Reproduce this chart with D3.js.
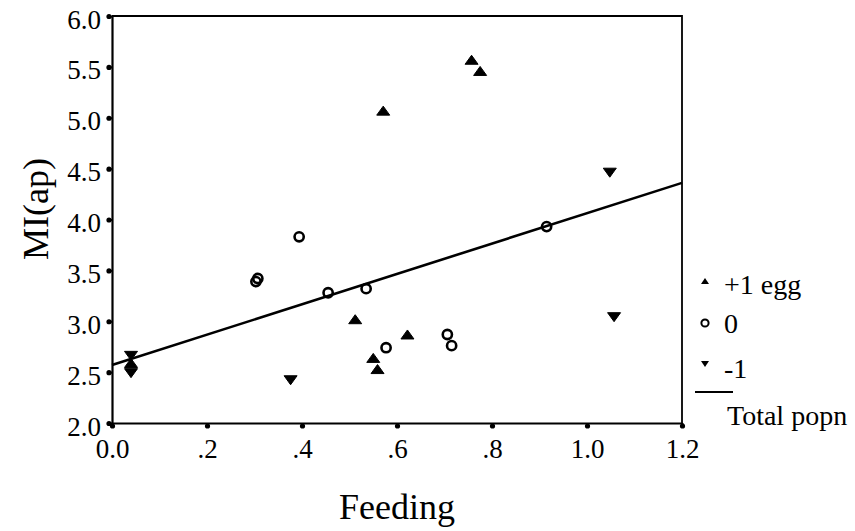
<!DOCTYPE html>
<html><head><meta charset="utf-8">
<script src="https://cdn.jsdelivr.net/npm/d3@7/dist/d3.min.js"></script>
<style>body{margin:0;background:#fff}svg{display:block}text{font-family:"Liberation Serif","Times New Roman",serif;fill:#000}</style>
</head><body><svg id="c" width="855" height="531"></svg>
<script>
// Data
const upX = [0.04, 0.757, 0.775, 0.571, 0.512, 0.622, 0.550, 0.559];
const upY = [2.59, 5.57, 5.46, 5.07, 3.02, 2.87, 2.64, 2.53];
const zeroX = [0.307, 0.303, 0.394, 0.455, 0.535, 0.577, 0.706, 0.715, 0.915];
const zeroY = [3.42, 3.39, 3.83, 3.28, 3.32, 2.74, 2.87, 2.76, 3.93];
const downX = [0.04, 0.04, 0.376, 1.048, 1.057];
const downY = [2.66, 2.49, 2.42, 4.46, 3.04];
const fitX = [0, 1.2];
const fitY = [2.57, 4.36];
const xTicks = [0, 0.2, 0.4, 0.6, 0.8, 1.0, 1.2];
const xTickLabels = ["0.0", ".2", ".4", ".6", ".8", "1.0", "1.2"];
const yTicks = [2.0, 2.5, 3.0, 3.5, 4.0, 4.5, 5.0, 5.5, 6.0];
const yTickLabels = ["2.0", "2.5", "3.0", "3.5", "4.0", "4.5", "5.0", "5.5", "6.0"];
const legendLabels = ["+1 egg", "0", "-1", "Total popn"];

const FONT = '"Liberation Serif", "Times New Roman", serif';
const svg = d3.select("#c");
const L = 112, R = 682, T = 16, B = 423;
const x = d3.scaleLinear().domain([0, 1.2]).range([L, R]);
const y = d3.scaleLinear().domain([2, 6]).range([B, T]);

// frame (top & right)
svg.append("path").attr("d", `M${L},${T}H${R}V${B}`).attr("fill","none").attr("stroke","#000").attr("stroke-width",1.8);

// axes
const xAxis = d3.axisBottom(x).tickValues(xTicks).tickFormat((d,i)=>xTickLabels[i]).tickSize(3).tickSizeOuter(0);
const gx = svg.append("g").attr("transform",`translate(0,${B})`).call(xAxis)
  .attr("font-family", null).attr("font-size", null);
gx.select(".domain").attr("stroke-width",2.2);
gx.selectAll(".tick line").attr("stroke-width",2);
gx.selectAll(".tick").append("circle").attr("cy",3).attr("r",2.6).attr("fill","#000");
gx.selectAll(".tick text").attr("y",35).attr("dy",null).attr("font-size",27).attr("font-family",FONT);

const yAxis = d3.axisLeft(y).tickValues(yTicks).tickFormat((d,i)=>yTickLabels[i]).tickSize(3).tickSizeOuter(0);
const gy = svg.append("g").attr("transform",`translate(${L},0)`).call(yAxis)
  .attr("font-family", null).attr("font-size", null);
gy.select(".domain").attr("stroke-width",2.2);
gy.selectAll(".tick line").attr("stroke-width",2);
gy.selectAll(".tick").append("circle").attr("cx",-3).attr("r",2.6).attr("fill","#000");
gy.selectAll(".tick text").attr("x",-11).attr("dy",null).attr("y",12).attr("font-size",27).attr("font-family",FONT);

// axis titles
svg.append("text").attr("x",(L+R)/2).attr("y",519).attr("text-anchor","middle").attr("font-size",36).text("Feeding");
svg.append("text").attr("transform","translate(48,209) rotate(-90)").attr("text-anchor","middle").attr("font-size",36).text("MI(ap)");

// fit line
const line = d3.line().x(d=>x(d[0])).y(d=>y(d[1]));
svg.append("path").attr("d", line(fitX.map((v,i)=>[v,fitY[i]]))).attr("fill","none").attr("stroke","#000").attr("stroke-width",2.6);

// markers
const tri = (w,h,up)=> up ? `M0,${-h/2}L${w/2},${h/2}L${-w/2},${h/2}Z` : `M0,${h/2}L${w/2},${-h/2}L${-w/2},${-h/2}Z`;
svg.append("g").selectAll("path").data(upX.map((v,i)=>[v,upY[i]])).join("path")
  .attr("transform",d=>`translate(${x(d[0])},${y(d[1])})`).attr("d",tri(13,9,true)).attr("fill","#000")
  .attr("stroke","#000").attr("stroke-width",1).attr("stroke-linejoin","round");
svg.append("g").selectAll("path").data(downX.map((v,i)=>[v,downY[i]])).join("path")
  .attr("transform",d=>`translate(${x(d[0])},${y(d[1])})`).attr("d",tri(13,9,false)).attr("fill","#000")
  .attr("stroke","#000").attr("stroke-width",1).attr("stroke-linejoin","round");
svg.append("g").selectAll("circle").data(zeroX.map((v,i)=>[v,zeroY[i]])).join("circle")
  .attr("cx",d=>x(d[0])).attr("cy",d=>y(d[1])).attr("r",4.6).attr("fill","none").attr("stroke","#000").attr("stroke-width",2.6);

// legend
const lg = svg.append("g");
lg.append("path").attr("transform","translate(705,281)").attr("d",tri(8,6,true)).attr("fill","#000");
lg.append("circle").attr("cx",705).attr("cy",323).attr("r",3.6).attr("fill","none").attr("stroke","#000").attr("stroke-width",2);
lg.append("path").attr("transform","translate(705,364)").attr("d",tri(8,6,false)).attr("fill","#000");
lg.append("line").attr("x1",695).attr("x2",733).attr("y1",392).attr("y2",392).attr("stroke","#000").attr("stroke-width",2);
lg.append("text").attr("x",724).attr("y",294).attr("font-size",28).text(legendLabels[0]);
lg.append("text").attr("x",724).attr("y",333).attr("font-size",28).text(legendLabels[1]);
lg.append("text").attr("x",724).attr("y",378).attr("font-size",28).text(legendLabels[2]);
lg.append("text").attr("x",727).attr("y",425).attr("font-size",28).text(legendLabels[3]);
</script></body></html>
